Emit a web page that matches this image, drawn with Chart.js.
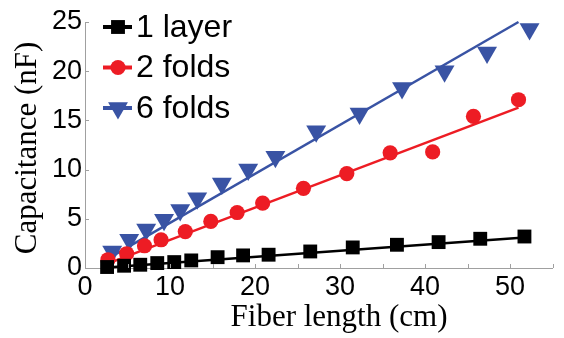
<!DOCTYPE html>
<html>
<head>
<meta charset="utf-8">
<script src="https://cdn.jsdelivr.net/npm/chart.js@4"></script>
<style>
  html, body { margin: 0; padding: 0; background: #fff; }
  #wrap { width: 564px; height: 338px; }
</style>
</head>
<body>
<div id="wrap"><canvas id="capChart"></canvas></div>
<script>
// Fiber length (cm) and capacitance (nF)
const layerX = [2.6, 4.6, 6.5, 8.5, 10.5, 12.5, 15.6, 18.6, 21.6, 26.5, 31.5, 36.7, 41.6, 46.5, 51.7];
const layerY = [0.1, 0.23, 0.33, 0.5, 0.6, 0.77, 1.1, 1.28, 1.35, 1.68, 2.09, 2.36, 2.63, 2.97, 3.2];

const fold2X = [2.7, 4.9, 7.0, 8.95, 11.8, 14.8, 17.9, 20.9, 25.7, 30.8, 35.9, 40.9, 45.7, 51.0];
const fold2Y = [0.84, 1.45, 2.26, 2.87, 3.7, 4.73, 5.64, 6.6, 8.1, 9.6, 11.7, 11.8, 15.4, 17.1];

const fold6X = [3.2, 5.2, 7.2, 9.3, 11.2, 13.2, 16.1, 19.2, 22.4, 27.2, 32.3, 37.3, 42.3, 47.3, 52.3];
const fold6Y = [1.68, 2.87, 3.9, 4.9, 5.9, 7.1, 8.6, 10.0, 11.3, 13.9, 15.7, 18.3, 20.0, 21.9, 24.3];

// linear fit lines: start and end points
const layerFitX = [2.6, 51.7];
const layerFitY = [0.05, 3.1];
const fold2FitX = [2.8, 51.0];
const fold2FitY = [0.5, 16.3];
const fold6FitX = [2.8, 51.0];
const fold6FitY = [1.0, 25.0];

const seriesLabels = ['1 layer', '2 folds', '6 folds'];
const xTicks = [0, 10, 20, 30, 40, 50];
const yTicks = [0, 5, 10, 15, 20, 25];

const BLACK = '#000000';
const RED = '#ed1c24';
const BLUE = '#3953a4';
const AXIS = '#a0a0a0';

function toPoints(xs, ys) {
    return xs.map((x, i) => ({ x: x, y: ys[i] }));
}

const markerStyles = [
    { pointStyle: 'rect', radius: 9.8, rotation: 0 },
    { pointStyle: 'circle', radius: 7.6, rotation: 0 },
    { pointStyle: 'triangle', radius: 11.5, rotation: 180 }
];

// inner tick marks, axis titles and the legend
const decorPlugin = {
    id: 'decor',
    afterDraw(chart) {
        const ctx = chart.ctx;
        const xs = chart.scales.x;
        const ys = chart.scales.y;
        const area = chart.chartArea;

        ctx.save();
        ctx.strokeStyle = AXIS;
        ctx.lineWidth = 1;
        ctx.beginPath();
        for (let v = xs.min; v <= xs.max; v += 5) {
            const px = Math.round(xs.getPixelForValue(v)) + 0.5;
            ctx.moveTo(px, area.bottom);
            ctx.lineTo(px, area.bottom - 4);
        }
        for (let v = ys.min; v <= ys.max; v += 5) {
            const py = Math.round(ys.getPixelForValue(v)) + 0.5;
            ctx.moveTo(area.left, py);
            ctx.lineTo(area.left + 4, py);
        }
        ctx.stroke();

        // axis titles
        ctx.fillStyle = '#000';
        ctx.font = '31px "Liberation Serif", "Times New Roman", serif';
        ctx.textAlign = 'center';
        ctx.textBaseline = 'middle';
        ctx.fillText('Fiber length (cm)', 339, 318);
        ctx.save();
        ctx.translate(28, 148);
        ctx.rotate(-Math.PI / 2);
        ctx.fillText('Capacitance (nF)', 0, 0);
        ctx.restore();

        // legend
        const colors = [BLACK, RED, BLUE];
        ctx.font = '32px "Liberation Sans", Arial, sans-serif';
        ctx.textAlign = 'left';
        for (let i = 0; i < 3; i++) {
            const y = 27 + i * 40.5;
            ctx.strokeStyle = colors[i];
            ctx.lineWidth = 4;
            ctx.beginPath();
            ctx.moveTo(103, y);
            ctx.lineTo(132, y);
            ctx.stroke();
            ctx.fillStyle = colors[i];
            Chart.helpers.drawPoint(ctx, {
                pointStyle: markerStyles[i].pointStyle,
                radius: markerStyles[i].radius,
                rotation: markerStyles[i].rotation,
                borderWidth: 0
            }, 118, y);
            ctx.fillStyle = '#000';
            ctx.fillText(chart.data.datasets[i].label, 136, y + 1);
        }
        ctx.restore();
    }
};

function markerSet(label, xs, ys, color, style) {
    return {
        label: label,
        data: toPoints(xs, ys),
        showLine: false,
        backgroundColor: color,
        borderColor: color,
        borderWidth: 0,
        pointStyle: style.pointStyle,
        pointRadius: style.radius,
        pointRotation: style.rotation,
        clip: false
    };
}

function fitSet(xs, ys, color) {
    return {
        label: 'fit',
        data: toPoints(xs, ys),
        showLine: true,
        borderColor: color,
        borderWidth: 2.5,
        pointRadius: 0,
        fill: false,
        clip: false
    };
}

const ctx = document.getElementById('capChart').getContext('2d');
new Chart(ctx, {
    type: 'scatter',
    data: {
        datasets: [
            markerSet(seriesLabels[0], layerX, layerY, BLACK, markerStyles[0]),
            markerSet(seriesLabels[1], fold2X, fold2Y, RED, markerStyles[1]),
            markerSet(seriesLabels[2], fold6X, fold6Y, BLUE, markerStyles[2]),
            fitSet(layerFitX, layerFitY, BLACK),
            fitSet(fold2FitX, fold2FitY, RED),
            fitSet(fold6FitX, fold6FitY, BLUE)
        ]
    },
    options: {
        responsive: true,
        maintainAspectRatio: false,
        animation: false,
        layout: {
            padding: { top: 22, right: 1, left: 0, bottom: 0 }
        },
        plugins: {
            legend: { display: false },
            tooltip: { enabled: false }
        },
        scales: {
            x: {
                type: 'linear',
                min: 0,
                max: 55,
                afterBuildTicks: function(scale) {
                    scale.ticks = xTicks.map(v => ({ value: v }));
                },
                afterFit: function(scale) {
                    scale.height = 70;
                    scale.paddingLeft = 0;
                    scale.paddingRight = 0;
                },
                grid: { display: false, drawTicks: false },
                border: { display: true, color: AXIS, width: 1 },
                ticks: {
                    autoSkip: false,
                    maxRotation: 0,
                    padding: 3,
                    color: '#000',
                    font: { family: '"Liberation Sans", Arial, sans-serif', size: 27 }
                }
            },
            y: {
                type: 'linear',
                min: 0,
                max: 25,
                afterBuildTicks: function(scale) {
                    scale.ticks = yTicks.map(v => ({ value: v }));
                },
                afterFit: function(scale) {
                    scale.width = 85;
                    scale.paddingTop = 0;
                    scale.paddingBottom = 0;
                },
                grid: { display: false, drawTicks: false },
                border: { display: true, color: AXIS, width: 1 },
                ticks: {
                    padding: 3,
                    color: '#000',
                    font: { family: '"Liberation Sans", Arial, sans-serif', size: 27 }
                }
            }
        }
    },
    plugins: [decorPlugin]
});
</script>
</body>
</html>
